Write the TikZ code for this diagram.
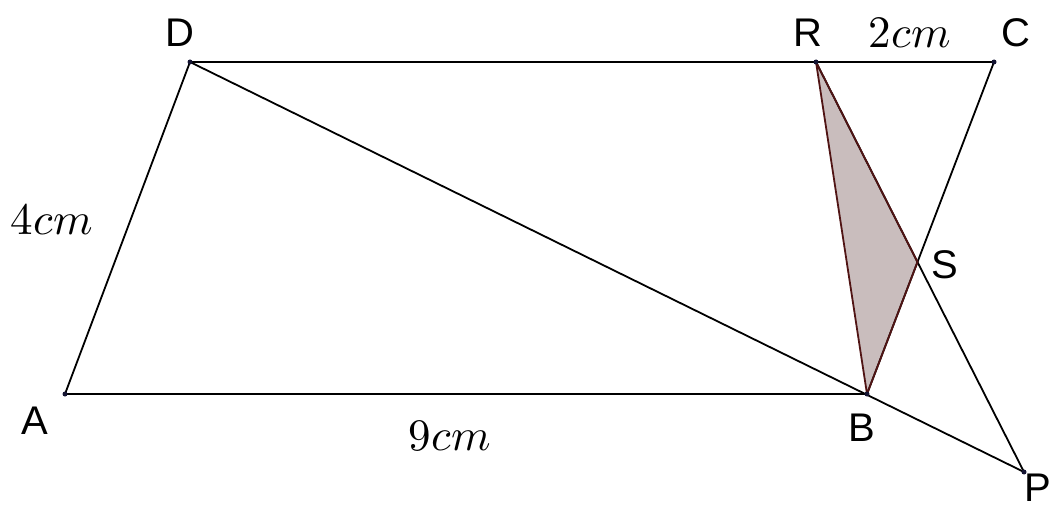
\documentclass[tikz,border=0pt]{standalone}
\usepackage{fontspec}
\setmainfont{Liberation Sans}
\usepackage{unicode-math}
\setmathfont{Latin Modern Math}
\definecolor{trifill}{RGB}{201,189,189}
\definecolor{triedge}{RGB}{80,20,20}
\definecolor{dotcol}{RGB}{20,20,50}
\begin{document}
\begin{tikzpicture}[x=1pt,y=-1pt,
  seg/.style={line width=1.8pt,black},
  pt/.style={circle,fill=dotcol,inner sep=0pt,minimum size=5pt},
  lbl/.style={font=\fontsize{40}{44}\selectfont,inner sep=0pt},
  mlbl/.style={font=\fontsize{45}{50}\selectfont,inner sep=0pt}]
\path[use as bounding box] (0,0) rectangle (1056,510);
\coordinate (A) at (65,394);
\coordinate (B) at (867,394);
\coordinate (C) at (994,62);
\coordinate (D) at (190,62);
\coordinate (R) at (816,62);
\coordinate (S) at (917.5,262);
\coordinate (P) at (1024,472);
\fill[trifill] (R) -- (B) -- (S) -- cycle;
\draw[seg] (A) -- (B) -- (C) -- (D) -- cycle;
\draw[seg] (D) -- (P);
\draw[seg] (R) -- (P);
\draw[line width=1.8pt,triedge,line join=round] (R) -- (B) -- (S) -- cycle;
\foreach \p in {A,B,C,D,R,P} \node[pt] at (\p) {};
\node[lbl] (lA) at (35,421) {A};
\node[lbl] (lB) at (862,428) {B};
\node[lbl] (lC) at (1016,33) {C};
\node[lbl] (lD) at (180,33) {D};
\node[lbl] (lR) at (808,33) {R};
\node[lbl] (lS) at (945,265) {S};
\node[lbl] (lP) at (1038,488) {P};
\node[mlbl] (l2) at (910,33) {$2cm$};
\node[mlbl] (l4) at (52,220) {$4cm$};
\node[mlbl] (l9) at (450,436) {$9cm$};
\end{tikzpicture}
\end{document}
